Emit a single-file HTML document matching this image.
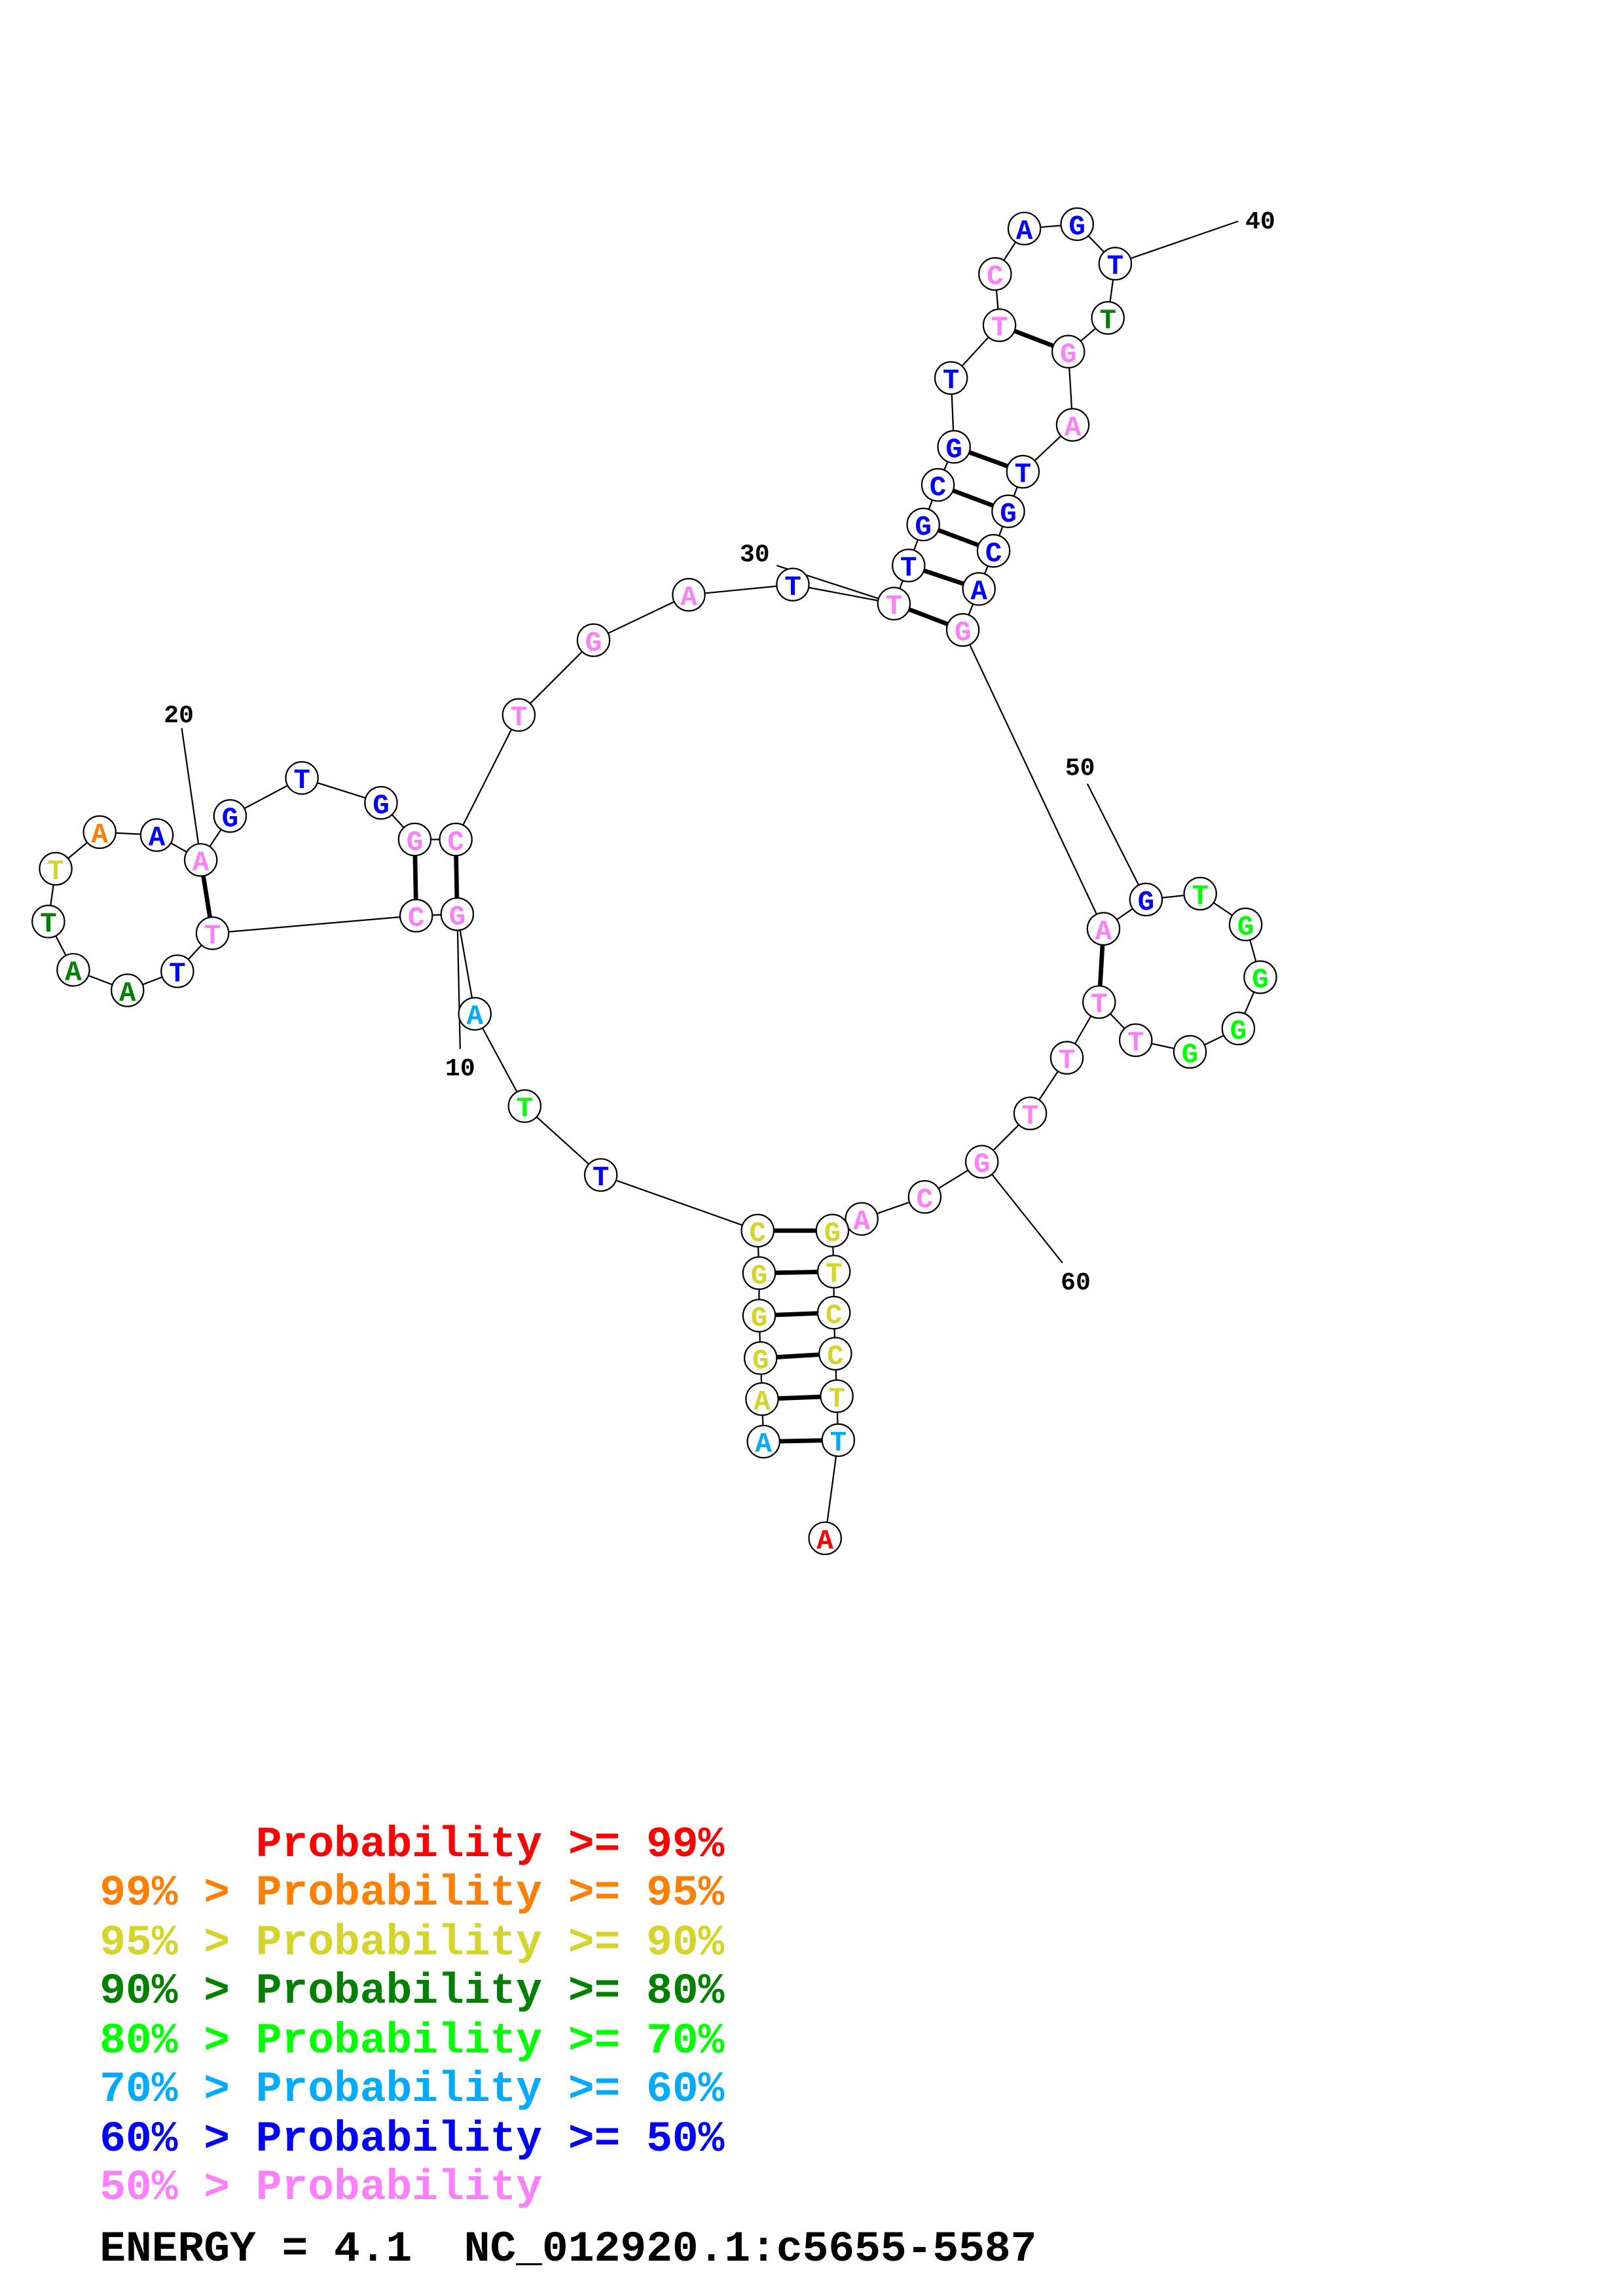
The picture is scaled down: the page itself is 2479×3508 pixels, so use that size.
<!DOCTYPE html>
<html><head><meta charset="utf-8"><style>
html,body{margin:0;padding:0;background:#fff;}
svg{display:block;}
.n{fill:#fff;stroke:#000;stroke-width:1;}
.b{stroke:#000;stroke-width:1;fill:none;}
.p{stroke:#000;stroke-width:3;fill:none;}
.t{font-family:"Liberation Mono",monospace;font-weight:bold;font-size:19px;text-anchor:middle;}
.l{font-family:"Liberation Mono",monospace;font-weight:bold;font-size:17px;text-anchor:middle;fill:#000;}
.g{font-family:"Liberation Mono",monospace;font-weight:bold;font-size:29.6px;white-space:pre;}
</style></head><body>
<svg width="2479" height="3508" viewBox="0 0 1107.5 1567.2" preserveAspectRatio="none" xmlns="http://www.w3.org/2000/svg">
<polyline class="b" points="521,984 520,955 519,927 518,898 518,869 517,840 410,802 358,755 324,692 312,624 284,625 145,637 121,663 87,676 50,662 33,629 38,593 68,568 107,570 137,587 157,557 206,531 260,548 283,573 311,573 354,488 405,437 470,406 541,399 610,412 620,386 630,358 640,331 651,305 649,258 682,222 679,187 699,156 735,153 761,180 756,217 729,240 732,290 698,322 688,349 678,376 668,402 657,430 753,634 782,614 819,610 850,631 860,667 845,702 812,718 775,710 750,684 728,722 703,760 670,793 631,817 588,832 568,840 569,868 569,896 570,924 571,953 572,983 563,1050"/>
<line class="p" x1="521" y1="984" x2="572" y2="983"/>
<line class="p" x1="520" y1="955" x2="571" y2="953"/>
<line class="p" x1="519" y1="927" x2="570" y2="924"/>
<line class="p" x1="518" y1="898" x2="569" y2="896"/>
<line class="p" x1="518" y1="869" x2="569" y2="868"/>
<line class="p" x1="517" y1="840" x2="568" y2="840"/>
<line class="p" x1="312" y1="624" x2="311" y2="573"/>
<line class="p" x1="284" y1="625" x2="283" y2="573"/>
<line class="p" x1="145" y1="637" x2="137" y2="587"/>
<line class="p" x1="610" y1="412" x2="657" y2="430"/>
<line class="p" x1="620" y1="386" x2="668" y2="402"/>
<line class="p" x1="630" y1="358" x2="678" y2="376"/>
<line class="p" x1="640" y1="331" x2="688" y2="349"/>
<line class="p" x1="651" y1="305" x2="698" y2="322"/>
<line class="p" x1="682" y1="222" x2="729" y2="240"/>
<line class="p" x1="753" y1="634" x2="750" y2="684"/>
<line class="b" x1="314" y1="716" x2="312" y2="624"/>
<line class="b" x1="124" y1="497" x2="137" y2="587"/>
<line class="b" x1="530" y1="386" x2="610" y2="412"/>
<line class="b" x1="845" y1="151" x2="761" y2="180"/>
<line class="b" x1="742" y1="535" x2="782" y2="614"/>
<line class="b" x1="725" y1="862" x2="670" y2="793"/>
<text class="l" x="314" y="734">10</text>
<text class="l" x="122" y="493">20</text>
<text class="l" x="515" y="383">30</text>
<text class="l" x="860" y="156">40</text>
<text class="l" x="737" y="529">50</text>
<text class="l" x="734" y="880">60</text>
<g>
<circle class="n" cx="521" cy="984" r="11"/><text class="t" x="521" y="991" fill="#00aaff">A</text>
<circle class="n" cx="520" cy="955" r="11"/><text class="t" x="520" y="962" fill="#d4d42a">A</text>
<circle class="n" cx="519" cy="927" r="11"/><text class="t" x="519" y="934" fill="#d4d42a">G</text>
<circle class="n" cx="518" cy="898" r="11"/><text class="t" x="518" y="905" fill="#d4d42a">G</text>
<circle class="n" cx="518" cy="869" r="11"/><text class="t" x="518" y="876" fill="#d4d42a">G</text>
<circle class="n" cx="517" cy="840" r="11"/><text class="t" x="517" y="847" fill="#d4d42a">C</text>
<circle class="n" cx="410" cy="802" r="11"/><text class="t" x="410" y="809" fill="#0000ff">T</text>
<circle class="n" cx="358" cy="755" r="11"/><text class="t" x="358" y="762" fill="#00ff00">T</text>
<circle class="n" cx="324" cy="692" r="11"/><text class="t" x="324" y="699" fill="#00aaff">A</text>
<circle class="n" cx="312" cy="624" r="11"/><text class="t" x="312" y="631" fill="#ff80ff">G</text>
<circle class="n" cx="284" cy="625" r="11"/><text class="t" x="284" y="632" fill="#ff80ff">C</text>
<circle class="n" cx="145" cy="637" r="11"/><text class="t" x="145" y="644" fill="#ff80ff">T</text>
<circle class="n" cx="121" cy="663" r="11"/><text class="t" x="121" y="670" fill="#0000ff">T</text>
<circle class="n" cx="87" cy="676" r="11"/><text class="t" x="87" y="683" fill="#008000">A</text>
<circle class="n" cx="50" cy="662" r="11"/><text class="t" x="50" y="669" fill="#008000">A</text>
<circle class="n" cx="33" cy="629" r="11"/><text class="t" x="33" y="636" fill="#008000">T</text>
<circle class="n" cx="38" cy="593" r="11"/><text class="t" x="38" y="600" fill="#d4d42a">T</text>
<circle class="n" cx="68" cy="568" r="11"/><text class="t" x="68" y="575" fill="#ff8000">A</text>
<circle class="n" cx="107" cy="570" r="11"/><text class="t" x="107" y="577" fill="#0000ff">A</text>
<circle class="n" cx="137" cy="587" r="11"/><text class="t" x="137" y="594" fill="#ff80ff">A</text>
<circle class="n" cx="157" cy="557" r="11"/><text class="t" x="157" y="564" fill="#0000ff">G</text>
<circle class="n" cx="206" cy="531" r="11"/><text class="t" x="206" y="538" fill="#0000ff">T</text>
<circle class="n" cx="260" cy="548" r="11"/><text class="t" x="260" y="555" fill="#0000ff">G</text>
<circle class="n" cx="283" cy="573" r="11"/><text class="t" x="283" y="580" fill="#ff80ff">G</text>
<circle class="n" cx="311" cy="573" r="11"/><text class="t" x="311" y="580" fill="#ff80ff">C</text>
<circle class="n" cx="354" cy="488" r="11"/><text class="t" x="354" y="495" fill="#ff80ff">T</text>
<circle class="n" cx="405" cy="437" r="11"/><text class="t" x="405" y="444" fill="#ff80ff">G</text>
<circle class="n" cx="470" cy="406" r="11"/><text class="t" x="470" y="413" fill="#ff80ff">A</text>
<circle class="n" cx="541" cy="399" r="11"/><text class="t" x="541" y="406" fill="#0000ff">T</text>
<circle class="n" cx="610" cy="412" r="11"/><text class="t" x="610" y="419" fill="#ff80ff">T</text>
<circle class="n" cx="620" cy="386" r="11"/><text class="t" x="620" y="393" fill="#0000ff">T</text>
<circle class="n" cx="630" cy="358" r="11"/><text class="t" x="630" y="365" fill="#0000ff">G</text>
<circle class="n" cx="640" cy="331" r="11"/><text class="t" x="640" y="338" fill="#0000ff">C</text>
<circle class="n" cx="651" cy="305" r="11"/><text class="t" x="651" y="312" fill="#0000ff">G</text>
<circle class="n" cx="649" cy="258" r="11"/><text class="t" x="649" y="265" fill="#0000ff">T</text>
<circle class="n" cx="682" cy="222" r="11"/><text class="t" x="682" y="229" fill="#ff80ff">T</text>
<circle class="n" cx="679" cy="187" r="11"/><text class="t" x="679" y="194" fill="#ff80ff">C</text>
<circle class="n" cx="699" cy="156" r="11"/><text class="t" x="699" y="163" fill="#0000ff">A</text>
<circle class="n" cx="735" cy="153" r="11"/><text class="t" x="735" y="160" fill="#0000ff">G</text>
<circle class="n" cx="761" cy="180" r="11"/><text class="t" x="761" y="187" fill="#0000ff">T</text>
<circle class="n" cx="756" cy="217" r="11"/><text class="t" x="756" y="224" fill="#008000">T</text>
<circle class="n" cx="729" cy="240" r="11"/><text class="t" x="729" y="247" fill="#ff80ff">G</text>
<circle class="n" cx="732" cy="290" r="11"/><text class="t" x="732" y="297" fill="#ff80ff">A</text>
<circle class="n" cx="698" cy="322" r="11"/><text class="t" x="698" y="329" fill="#0000ff">T</text>
<circle class="n" cx="688" cy="349" r="11"/><text class="t" x="688" y="356" fill="#0000ff">G</text>
<circle class="n" cx="678" cy="376" r="11"/><text class="t" x="678" y="383" fill="#0000ff">C</text>
<circle class="n" cx="668" cy="402" r="11"/><text class="t" x="668" y="409" fill="#0000ff">A</text>
<circle class="n" cx="657" cy="430" r="11"/><text class="t" x="657" y="437" fill="#ff80ff">G</text>
<circle class="n" cx="753" cy="634" r="11"/><text class="t" x="753" y="641" fill="#ff80ff">A</text>
<circle class="n" cx="782" cy="614" r="11"/><text class="t" x="782" y="621" fill="#0000ff">G</text>
<circle class="n" cx="819" cy="610" r="11"/><text class="t" x="819" y="617" fill="#00ff00">T</text>
<circle class="n" cx="850" cy="631" r="11"/><text class="t" x="850" y="638" fill="#00ff00">G</text>
<circle class="n" cx="860" cy="667" r="11"/><text class="t" x="860" y="674" fill="#00ff00">G</text>
<circle class="n" cx="845" cy="702" r="11"/><text class="t" x="845" y="709" fill="#00ff00">G</text>
<circle class="n" cx="812" cy="718" r="11"/><text class="t" x="812" y="725" fill="#00ff00">G</text>
<circle class="n" cx="775" cy="710" r="11"/><text class="t" x="775" y="717" fill="#ff80ff">T</text>
<circle class="n" cx="750" cy="684" r="11"/><text class="t" x="750" y="691" fill="#ff80ff">T</text>
<circle class="n" cx="728" cy="722" r="11"/><text class="t" x="728" y="729" fill="#ff80ff">T</text>
<circle class="n" cx="703" cy="760" r="11"/><text class="t" x="703" y="767" fill="#ff80ff">T</text>
<circle class="n" cx="670" cy="793" r="11"/><text class="t" x="670" y="800" fill="#ff80ff">G</text>
<circle class="n" cx="631" cy="817" r="11"/><text class="t" x="631" y="824" fill="#ff80ff">C</text>
<circle class="n" cx="588" cy="832" r="11"/><text class="t" x="588" y="839" fill="#ff80ff">A</text>
<circle class="n" cx="568" cy="840" r="11"/><text class="t" x="568" y="847" fill="#d4d42a">G</text>
<circle class="n" cx="569" cy="868" r="11"/><text class="t" x="569" y="875" fill="#d4d42a">T</text>
<circle class="n" cx="569" cy="896" r="11"/><text class="t" x="569" y="903" fill="#d4d42a">C</text>
<circle class="n" cx="570" cy="924" r="11"/><text class="t" x="570" y="931" fill="#d4d42a">C</text>
<circle class="n" cx="571" cy="953" r="11"/><text class="t" x="571" y="960" fill="#d4d42a">T</text>
<circle class="n" cx="572" cy="983" r="11"/><text class="t" x="572" y="990" fill="#00aaff">T</text>
<circle class="n" cx="563" cy="1050" r="11"/><text class="t" x="563" y="1057" fill="#ff0000">A</text>
</g>
<text class="g" x="68" y="1267" fill="#ff0000">      Probability &gt;= 99%</text>
<text class="g" x="68" y="1300" fill="#ff8000">99% &gt; Probability &gt;= 95%</text>
<text class="g" x="68" y="1334" fill="#d4d42a">95% &gt; Probability &gt;= 90%</text>
<text class="g" x="68" y="1367" fill="#008000">90% &gt; Probability &gt;= 80%</text>
<text class="g" x="68" y="1401" fill="#00ff00">80% &gt; Probability &gt;= 70%</text>
<text class="g" x="68" y="1434" fill="#00aaff">70% &gt; Probability &gt;= 60%</text>
<text class="g" x="68" y="1468" fill="#0000ff">60% &gt; Probability &gt;= 50%</text>
<text class="g" x="68" y="1501" fill="#ff80ff">50% &gt; Probability</text>
<text class="g" x="68" y="1543" fill="#000">ENERGY = 4.1  NC_012920.1:c5655-5587</text>
</svg>
</body></html>
